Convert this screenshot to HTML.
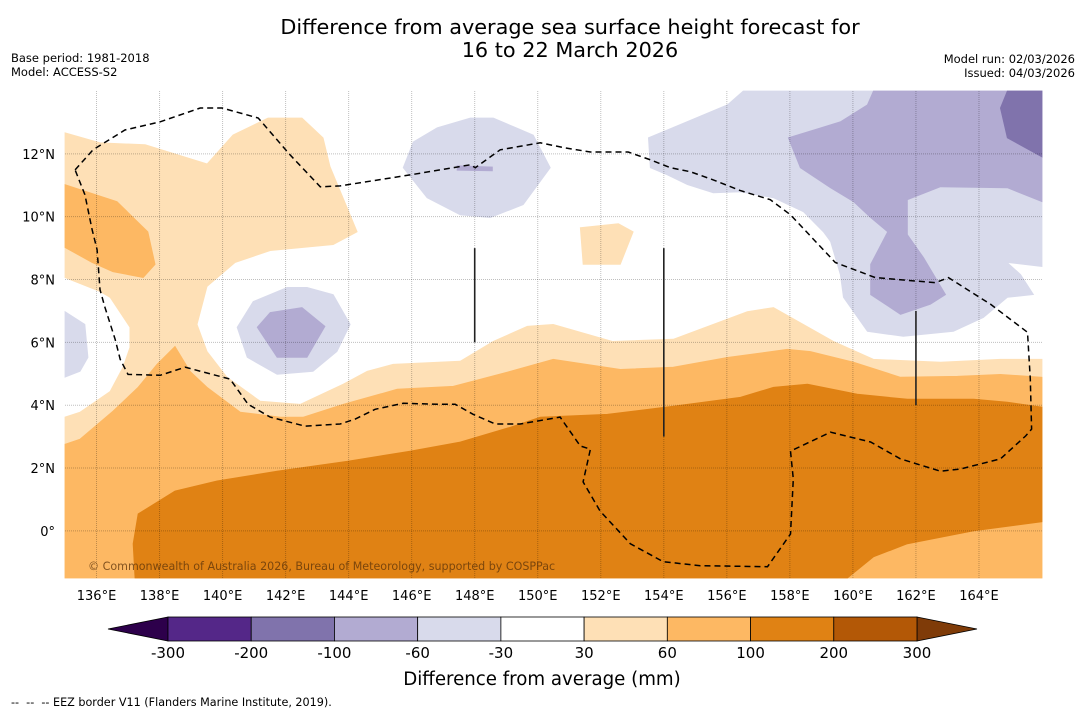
<!DOCTYPE html>
<html><head><meta charset="utf-8">
<style>
html,body{margin:0;padding:0;background:#fff;}
body{width:1085px;height:713px;overflow:hidden;font-family:"Liberation Sans","DejaVu Sans",sans-serif;}
svg text{font-family:"DejaVu Sans","Liberation Sans",sans-serif;}
</style></head>
<body>
<svg id="chart" width="1085" height="713" xmlns="http://www.w3.org/2000/svg">
<text x="570" y="34" font-size="20.8" text-anchor="middle">Difference from average sea surface height forecast for</text>
<text x="570" y="57" font-size="20.8" text-anchor="middle">16 to 22 March 2026</text>
<text x="11" y="62" font-size="11.5">Base period: 1981-2018</text>
<text x="11" y="76" font-size="11.5">Model: ACCESS-S2</text>
<text x="1075" y="63" font-size="11.5" text-anchor="end">Model run: 02/03/2026</text>
<text x="1075" y="77" font-size="11.5" text-anchor="end">Issued: 04/03/2026</text>
<g id="map"></g>
<g id="cbar"></g>
<text x="542" y="685" font-size="18.2" text-anchor="middle">Difference from average (mm)</text>
<text x="11" y="706" font-size="11.2" xml:space="preserve">--  --  -- EEZ border V11 (Flanders Marine Institute, 2019).</text>
</svg>
<script>
const lonTicks=[136,138,140,142,144,146,148,150,152,154,156,158,160,162,164];
const latTicks=[0,2,4,6,8,10,12];
const levels=[-300,-200,-100,-60,-30,30,60,100,200,300];
const levelColors=["#542788","#8073ac","#b2abd2","#d8daeb","#ffffff","#fee0b6","#fdb863","#e08214","#b35806"];
const lightOrange=[[135,12.67],[136.11,12.35],[137.54,12.29],[139.51,11.68],[140.33,12.6],[141.44,13.14],[142.52,13.14],[143.19,12.51],[143.41,11.59],[144.27,9.52],[143.51,9.11],[141.51,8.92],[140.4,8.54],[139.51,7.78],[139.19,6.57],[139.51,5.71],[140.14,4.89],[141.19,4.13],[142.46,4.03],[143.83,4.67],[144.59,5.08],[145.41,5.3],[147.54,5.4],[148.59,6.03],[149.67,6.51],[150.49,6.57],[152.37,6.03],[154.3,6.1],[156.65,6.98],[157.48,7.11],[159.38,6.03],[160.65,5.46],[162.78,5.37],[164.68,5.46],[166,5.46],[166,-1.5],[135,-1.5],[135,3.62],[135.48,3.78],[136.43,4.44],[136.84,5.21],[137.06,5.84],[137.06,6.48],[136.43,7.43],[136.11,7.62],[135,8.06]];
const lightOrangePatch=[[151.35,9.65],[152.56,9.78],[153.03,9.52],[152.62,8.48],[151.44,8.48]];
const medOrangeNW=[[135,11.02],[135.79,10.76],[136.65,10.48],[137.63,9.52],[137.86,8.48],[137.48,8.06],[136.52,8.25],[135.86,8.54],[135,9.02]];
const medOrange=[[135,2.76],[135.48,2.92],[136.52,3.81],[137.32,4.57],[137.92,5.3],[138.49,5.87],[138.97,5.08],[139.51,4.57],[140.56,3.78],[141.83,3.62],[142.56,3.62],[143.83,4.03],[145.54,4.51],[147.32,4.6],[149.13,5.08],[150.49,5.46],[152.62,5.14],[154.3,5.21],[156.02,5.52],[157.92,5.78],[158.65,5.71],[160.02,5.37],[161.51,4.89],[163.32,4.92],[164.68,4.98],[166,4.89],[166,-1.5],[135,-1.5]];
const darkOrange=[[137.22,-1.5],[137.16,-0.41],[137.32,0.54],[138.49,1.27],[139.83,1.59],[141.73,1.9],[143.98,2.22],[145.95,2.54],[147.54,2.83],[149.13,3.3],[150.08,3.62],[152.21,3.71],[154.3,3.97],[156.43,4.25],[157.48,4.57],[158.56,4.67],[160.14,4.35],[161.73,4.19],[163.83,4.19],[164.9,4.1],[166,3.94],[166,0.29],[163.83,0],[161.73,-0.41],[160.65,-0.83],[159.83,-1.5]];
const lavTop=[[145.73,11.56],[146.05,12.38],[146.81,12.83],[147.86,13.14],[148.59,13.14],[149.86,12.6],[150.4,11.56],[149.54,10.38],[148.49,9.97],[147.54,10.06],[146.49,10.6]];
const lavTopStrip=[[147.44,11.62],[148.56,11.58],[148.56,11.46],[147.44,11.48]];
const lavMid=[[140.46,6.48],[140.97,7.3],[142.05,7.75],[142.68,7.75],[143.51,7.52],[144.05,6.57],[143.63,5.71],[142.87,5.08],[141.73,4.98],[140.78,5.52]];
const lavMidInner=[[141.1,6.48],[141.51,6.95],[142.52,7.11],[143.25,6.51],[142.68,5.52],[141.73,5.52]];
const lavWest=[[135,6.98],[135.63,6.57],[135.73,5.52],[135.48,5.08],[135,4.89]];
const lavEast=[[153.51,12.51],[156.02,13.56],[156.52,14],[166,14],[166,8.41],[164.9,8.54],[165.32,8.16],[165.73,7.52],[164.9,7.43],[164.14,6.79],[163.19,6.35],[161.6,6.19],[160.46,6.35],[159.7,7.43],[159.6,8.16],[159.29,9.21],[159.06,9.52],[158.43,10.16],[157.48,10.6],[156.43,10.79],[155.57,10.76],[154.75,11.02],[154.11,11.33],[153.57,11.56]];
const lavEastMed=[[157.95,12.51],[159.6,13.02],[160.46,13.56],[160.65,14],[166,14],[166,10.48],[164.9,10.92],[162.78,10.95],[161.73,10.54],[161.73,9.43],[162.24,8.7],[162.94,7.52],[162.46,7.21],[161.51,6.89],[160.56,7.52],[160.56,8.48],[161.1,9.52],[160.56,9.97],[160.02,10.48],[159.29,10.92],[158.33,11.56]];
const lavEastDark=[[164.9,14],[166,14],[166,11.9],[164.9,12.51],[164.68,13.46]];
const eez=[[135.32,11.49],[135.89,12.13],[136.9,12.76],[138.02,13.02],[139.29,13.46],[139.98,13.46],[141.13,13.14],[142.14,11.97],[143.1,10.95],[143.73,10.98],[145.95,11.33],[147.86,11.65],[148.02,11.56],[148.81,12.13],[150.08,12.35],[150.87,12.19],[151.67,12.06],[152.87,12.06],[153.57,11.81],[154.21,11.56],[154.84,11.43],[155.57,11.17],[156.43,10.83],[157.38,10.54],[158.02,10.06],[159.44,8.54],[160.71,8.06],[162.62,7.9],[163.03,8.06],[164.37,7.21],[165.54,6.32],[165.63,4.83],[165.67,3.24],[165.48,3.02],[164.68,2.29],[163.41,1.97],[162.78,1.9],[161.51,2.29],[160.56,2.83],[159.29,3.14],[158.02,2.54],[158.11,1.65],[158.02,-0.1],[157.29,-1.14],[155.16,-1.11],[153.98,-0.98],[152.94,-0.41],[151.98,0.63],[151.44,1.56],[151.67,2.6],[151.35,2.7],[150.71,3.62],[149.44,3.4],[148.65,3.4],[147.95,3.71],[147.38,4.03],[146.9,4.03],[145.73,4.06],[144.84,3.87],[144.21,3.56],[143.73,3.4],[142.62,3.33],[141.51,3.62],[140.81,4.03],[140.24,4.83],[138.81,5.21],[138.02,4.95],[137,4.98],[136.75,5.46],[136.59,6.1],[136.27,7.11],[136.11,7.68],[136.02,8.95],[135.86,9.59],[135.63,10.7]];
const borderLines=[[[148,9],[148,6]],[[154,9],[154,3]],[[162,7],[162,4]]];

const LON0=135,LON1=166,LAT0=-1.5,LAT1=14;
const X0=65,X1=1042,Y0=91,Y1=578;
const NS="http://www.w3.org/2000/svg";
function x(lon){return X0+(lon-LON0)/(LON1-LON0)*(X1-X0);}
function y(lat){return Y0+(LAT1-lat)/(LAT1-LAT0)*(Y1-Y0);}
function pts(a){return a.map(p=>x(p[0]).toFixed(1)+","+y(p[1]).toFixed(1)).join(" ");}
const map=document.getElementById("map");
function poly(a,fill,name){
  const e=document.createElementNS(NS,"polygon");
  e.setAttribute("points",pts(a));e.setAttribute("fill",fill);
  e.setAttribute("stroke",fill);e.setAttribute("stroke-width","0.8");
  
  
  map.appendChild(e);
}
const bg=document.createElementNS(NS,"rect");
bg.setAttribute("x",X0);bg.setAttribute("y",Y0);bg.setAttribute("width",X1-X0);bg.setAttribute("height",Y1-Y0);bg.setAttribute("fill","#fff");


map.appendChild(bg);
poly(lightOrange,levelColors[5],"contour-30-60");
poly(lightOrangePatch,levelColors[5],"contour-30-60-patch");
poly(medOrangeNW,levelColors[6],"contour-60-100-northwest");
poly(medOrange,levelColors[6],"contour-60-100");
poly(darkOrange,levelColors[7],"contour-100-200");
poly(lavTop,levelColors[3],"contour-minus60-minus30-north");
poly(lavTopStrip,levelColors[2],"contour-minus100-minus60-strip");
poly(lavMid,levelColors[3],"contour-minus60-minus30-centre");
poly(lavMidInner,levelColors[2],"contour-minus100-minus60-centre");
poly(lavWest,levelColors[3],"contour-minus60-minus30-west");
poly(lavEast,levelColors[3],"contour-minus60-minus30-east");
poly(lavEastMed,levelColors[2],"contour-minus100-minus60-east");
poly(lavEastDark,levelColors[1],"contour-minus200-minus100-east");
lonTicks.forEach(v=>{
  const l=document.createElementNS(NS,"line");
  l.setAttribute("x1",x(v));l.setAttribute("x2",x(v));l.setAttribute("y1",Y0);l.setAttribute("y2",Y1);
  l.setAttribute("stroke","rgba(0,0,0,0.25)");l.setAttribute("stroke-width","1");l.setAttribute("stroke-dasharray","1,1");
  
  
  map.appendChild(l);
  const t=document.createElementNS(NS,"text");
  t.setAttribute("x",x(v));t.setAttribute("y",600);t.setAttribute("font-size","13");t.setAttribute("text-anchor","middle");
  t.textContent=v+"°E";
  
  
  map.appendChild(t);
});
latTicks.forEach(v=>{
  const l=document.createElementNS(NS,"line");
  l.setAttribute("x1",X0);l.setAttribute("x2",X1);l.setAttribute("y1",y(v));l.setAttribute("y2",y(v));
  l.setAttribute("stroke","rgba(0,0,0,0.25)");l.setAttribute("stroke-width","1");l.setAttribute("stroke-dasharray","1,1");
  
  
  map.appendChild(l);
  const t=document.createElementNS(NS,"text");
  t.setAttribute("x",55);t.setAttribute("y",y(v)+5);t.setAttribute("font-size","13");t.setAttribute("text-anchor","end");
  t.textContent=v===0?"0°":v+"°N";
  
  
  map.appendChild(t);
});
const ez=document.createElementNS(NS,"polygon");
ez.setAttribute("points",pts(eez));ez.setAttribute("fill","none");ez.setAttribute("stroke","#000");
ez.setAttribute("stroke-width","1.5");ez.setAttribute("stroke-dasharray","6,4");


map.appendChild(ez);
borderLines.forEach(s=>{
  const l=document.createElementNS(NS,"line");
  l.setAttribute("x1",x(s[0][0]));l.setAttribute("y1",y(s[0][1]));l.setAttribute("x2",x(s[1][0]));l.setAttribute("y2",y(s[1][1]));
  l.setAttribute("stroke","#222");l.setAttribute("stroke-width","1.6");
  
  
  map.appendChild(l);
});
const cr=document.createElementNS(NS,"text");
cr.setAttribute("x",88);cr.setAttribute("y",570);cr.setAttribute("font-size","11.1");cr.setAttribute("fill","rgba(90,50,10,0.75)");
cr.textContent="© Commonwealth of Australia 2026, Bureau of Meteorology, supported by COSPPac";


map.appendChild(cr);
const cb=document.getElementById("cbar");
const CB0=168,CB1=917,CBY=617,CBH=24,segW=(CB1-CB0)/(levels.length-1);
const ext1=document.createElementNS(NS,"polygon");
ext1.setAttribute("points",`${CB0},${CBY} 108,${CBY+CBH/2} ${CB0},${CBY+CBH}`);ext1.setAttribute("fill","#2d004b");ext1.setAttribute("stroke","#000");ext1.setAttribute("stroke-width","0.8");


cb.appendChild(ext1);
const ext2=document.createElementNS(NS,"polygon");
ext2.setAttribute("points",`${CB1},${CBY} 977,${CBY+CBH/2} ${CB1},${CBY+CBH}`);ext2.setAttribute("fill","#7f3b08");ext2.setAttribute("stroke","#000");ext2.setAttribute("stroke-width","0.8");


cb.appendChild(ext2);
levelColors.forEach((c,i)=>{
  const r=document.createElementNS(NS,"rect");
  r.setAttribute("x",CB0+i*segW);r.setAttribute("y",CBY);r.setAttribute("width",segW);r.setAttribute("height",CBH);
  r.setAttribute("fill",c);r.setAttribute("stroke","#000");r.setAttribute("stroke-width","0.8");
  
  
  cb.appendChild(r);
});
levels.forEach((v,i)=>{
  const t=document.createElementNS(NS,"text");
  t.setAttribute("x",CB0+i*segW);t.setAttribute("y",658);t.setAttribute("font-size","15");t.setAttribute("text-anchor","middle");
  t.textContent=v;
  
  
  cb.appendChild(t);
});
</script>
</body></html>
